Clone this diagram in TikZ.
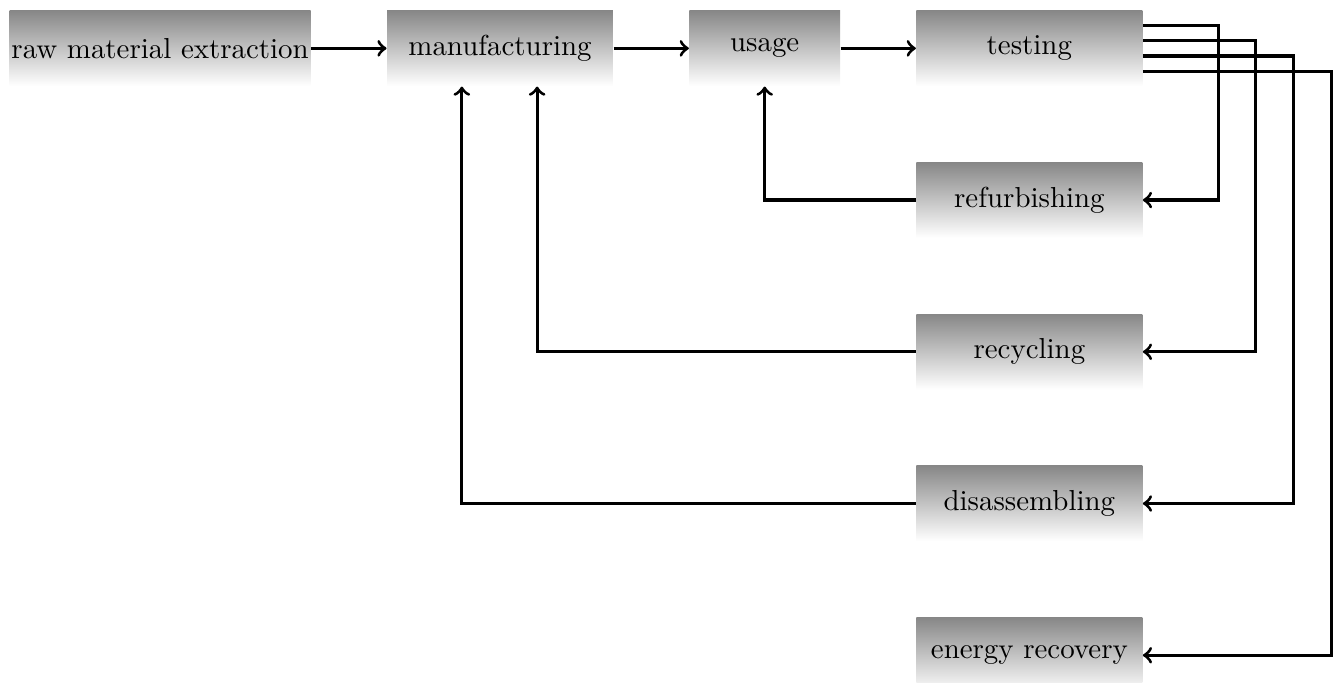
\documentclass[tikz,border=0pt]{standalone}
\usetikzlibrary{positioning,calc}
\tikzset{
  stage/.style={rectangle, inner sep=0pt, minimum height=26.05pt,
    top color=black!47, bottom color=white, draw=none},
  flow/.style={->, line width=1.1pt}
}
\begin{document}
\begin{tikzpicture}[node distance=26.05pt]
\useasboundingbox (-3.1pt,3.5pt) rectangle (461.6pt,-232.8pt);
\node[stage, minimum width=104.2pt, anchor=north west] (raw) at (0,0) {raw material extraction};
\node[stage, minimum width=78.15pt, right=of raw] (manufacturing) {manufacturing};
\node[stage, minimum width=52.1pt, right=of manufacturing] (usage) {usage};
\node[stage, minimum width=78.15pt, right=of usage] (testing) {testing};
\node[stage, minimum width=78.15pt, below=of testing] (refurbishing) {refurbishing};
\node[stage, minimum width=78.15pt, below=of refurbishing] (recycling) {recycling};
\node[stage, minimum width=78.15pt, below=of recycling] (disassembling) {disassembling};
\node[stage, minimum width=78.15pt, below=of disassembling] (energy) {energy recovery};
\draw[flow] (raw) -- (manufacturing);
\draw[flow] (manufacturing) -- (usage);
\draw[flow] (usage) -- (testing);
\draw[flow] ($(testing.north east)!.2!(testing.south east)$) -- ++(26.05pt,0) |- (refurbishing.east);
\draw[flow] ($(testing.north east)!.4!(testing.south east)$) -- ++(39.1pt,0) |- (recycling.east);
\draw[flow] ($(testing.north east)!.6!(testing.south east)$) -- ++(52.1pt,0) |- (disassembling.east);
\draw[flow] ($(testing.north east)!.8!(testing.south east)$) -- ++(65.15pt,0) |- (energy.east);
\draw[flow] (refurbishing.west) -| (usage.south);
\draw[flow] (recycling.west) -| ($(manufacturing.south west)+(52.1pt,0)$);
\draw[flow] (disassembling.west) -| ($(manufacturing.south west)+(26.05pt,0)$);
\end{tikzpicture}
\end{document}
